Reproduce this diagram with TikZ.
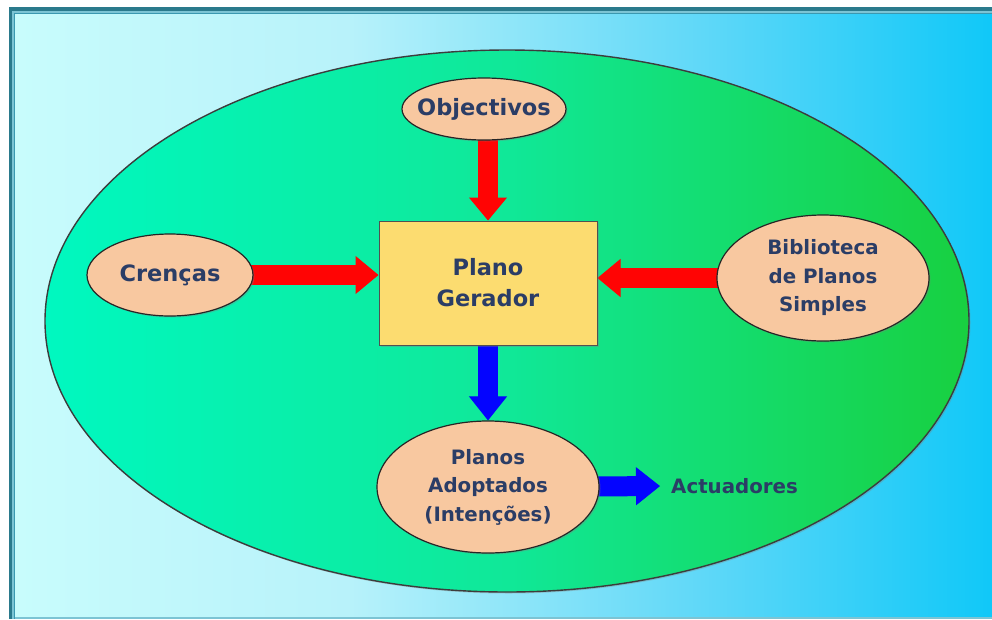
\documentclass[tikz,border=0pt]{standalone}
\usepackage{fontspec}
\setmainfont{DejaVu Sans}
\usetikzlibrary{shapes.geometric,arrows.meta,shadows}

\definecolor{ink}{HTML}{2B3D66}
\definecolor{peach}{HTML}{F8C8A0}
\definecolor{boxyellow}{HTML}{FCDC70}
\definecolor{edge}{HTML}{262626}
\definecolor{arrowred}{HTML}{FF0404}
\definecolor{arrowblue}{HTML}{0404FF}
\definecolor{skyA}{HTML}{C8FCFC}
\definecolor{skyB}{HTML}{B8F2FA}
\definecolor{skyC}{HTML}{60D8F8}
\definecolor{skyD}{HTML}{10C8F8}
\definecolor{leafA}{HTML}{00F8C0}
\definecolor{leafM}{HTML}{10E898}
\definecolor{leafB}{HTML}{18D040}
\definecolor{framedark}{HTML}{2A7A8C}
\definecolor{framelight}{HTML}{7CC4D4}
\definecolor{framemid}{HTML}{3A98B0}

% horizontal colour ramps (central 50bp band is fitted to the path)
\pgfdeclarehorizontalshading{skyfade}{100bp}{color(0bp)=(skyA); color(25bp)=(skyA); color(42bp)=(skyB); color(60bp)=(skyC); color(75bp)=(skyD); color(100bp)=(skyD)}
\pgfdeclarehorizontalshading{leaffade}{100bp}{color(0bp)=(leafA); color(25bp)=(leafA); color(50bp)=(leafM); color(75bp)=(leafB); color(100bp)=(leafB)}

\pgfdeclarelayer{back}
\pgfdeclarelayer{links}
\pgfsetlayers{back,links,main}

\begin{document}
\begin{tikzpicture}[x=1pt,y=-1pt,
  softshadow/.style={drop shadow={shadow xshift=1.5pt,shadow yshift=-1.5pt,opacity=0.35}},
  bigtxt/.style={font=\bfseries\fontsize{22.5}{31}\selectfont},
  smalltxt/.style={font=\bfseries\fontsize{19.8}{28.5}\selectfont},
  blob/.style={ellipse,draw=edge,line width=1.2pt,fill=peach,inner sep=0pt,
    align=center,text=ink,softshadow},
  planbox/.style={rectangle,draw=edge!80,line width=1pt,fill=boxyellow,inner sep=0pt,
    align=center,text=ink,softshadow},
  redflow/.style={draw=arrowred,line width=20pt,
    -{Triangle[width=38pt,length=23pt,line width=1pt]}},
  blueflow/.style={draw=arrowblue,line width=20pt,
    -{Triangle[width=38pt,length=24pt,line width=1pt]}}
]
\useasboundingbox (0,0) rectangle (992,619);

\begin{pgfonlayer}{back}
  % window frame and sky background
  \fill[framedark] (9,7) rectangle (992,619);
  \fill[framelight] (12,11) rectangle (992,619);
  \fill[framemid] (14,13) rectangle (992,619);
  \shade[shading=skyfade] (15,14) rectangle (992,617);
  \fill[framelight] (15,617) rectangle (992,619);
  % agent boundary
  \node[ellipse,minimum width=924pt,minimum height=542pt,inner sep=0pt,
    shading=leaffade,draw=edge!90,line width=1.4pt,softshadow] (agent) at (507,321) {};
\end{pgfonlayer}

% components
\node[blob,minimum width=164pt,minimum height=62pt,inner xsep=-9pt,bigtxt] (obj) at (484,109) {Objectivos};
\node[planbox,minimum width=218pt,minimum height=124pt,bigtxt] (gen) at (488,283) {Plano\\Gerador};
\node[blob,minimum width=166pt,minimum height=82pt,bigtxt] (bel) at (170,275) {Crenças};
\node[blob,minimum width=212pt,minimum height=126pt,smalltxt] (lib) at (823,278) {Biblioteca\\de Planos\\Simples};
\node[blob,minimum width=222pt,minimum height=132pt,smalltxt] (int) at (488,487) {Planos\\Adoptados\\(Intenções)};
\node[text=ink,smalltxt,inner sep=0pt,anchor=west] (act) at (671,486) {Actuadores};

% flows into and out of the plan generator
\begin{pgfonlayer}{links}
  \draw[redflow] (gen.north |- obj.center) -- (gen.north);
  \draw[redflow] (bel.center) -- (bel.center -| gen.west);
  \draw[redflow] (lib.center) -- (lib.center -| gen.east);
  \draw[blueflow] (gen.center) -- (int.north);
  \draw[blueflow,shorten >=11pt] (int.center) -- (act.west);
\end{pgfonlayer}
\end{tikzpicture}
\end{document}
